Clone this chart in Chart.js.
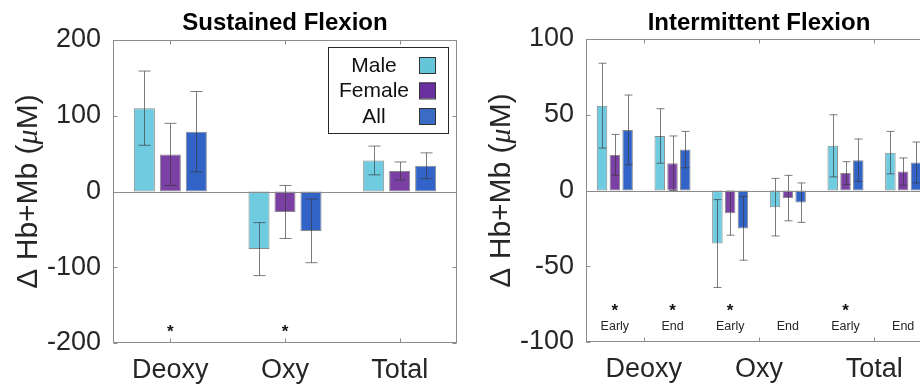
<!DOCTYPE html>
<html>
<head>
<meta charset="utf-8">
<script src="https://cdn.jsdelivr.net/npm/chart.js@4.4.1/dist/chart.umd.min.js"></script>
<style>
  html, body { margin: 0; padding: 0; background: #fff; overflow: hidden; width: 920px; height: 385px; }
  #sustained { position: absolute; left: 0; top: 0; }
  #intermittent { position: absolute; left: 460px; top: 0; }
</style>
</head>
<body>
<canvas id="sustained" width="460" height="385"></canvas>
<canvas id="intermittent" width="475" height="385"></canvas>
<script>
// Sustained flexion (left panel)
const groupsL = ["Deoxy", "Oxy", "Total"];
const maleL = [110, -76, 41];
const maleErrL = [49, 35, 19];
const femaleL = [49, -27, 27];
const femaleErrL = [41, 35, 12];
const allL = [79, -52, 34];
const allErrL = [53, 42, 17];
const starsL = [true, true, false];
const ticksL = [-200, -100, 0, 100, 200];

// Intermittent flexion (right panel)
const groupsR = ["Deoxy", "Oxy", "Total"];
const phasesR = ["Early", "End", "Early", "End", "Early", "End"];
const maleR = [56, 36, -35, -11, 29.5, 25];
const maleErrR = [28, 18, 29, 19, 20.5, 14];
const femaleR = [23.5, 18, -15, -5, 11.5, 12.5];
const femaleErrR = [13.5, 18, 14.5, 15, 7.5, 9];
const allR = [40, 27, -25, -8, 20, 18.5];
const allErrR = [23, 12, 21, 13, 14, 13.5];
const starsR = [true, true, true, false, true, false];
const ticksR = [-100, -50, 0, 50, 100];

const seriesNames = ["Male", "Female", "All"];
const FONT = "'Liberation Sans', Arial, Helvetica, sans-serif";
const TEXT = "#262626";
const barColors = ["#6ECBE0", "#7B40A3", "#3264C8"];
const legendColors = ["#66C6D9", "#6A30A0", "#3A6CC4"];

// draws error bars, box, inward ticks, stars, titles, legend (MATLAB look)
const matlabAxes = {
  id: "matlabAxes",
  afterDatasetsDraw(chart, args, opts) {
    const ctx = chart.ctx;
    const area = chart.chartArea;
    const y = chart.scales.y;
    const xBars = chart.scales.x;
    const xTicks = chart.scales[opts.tickAxis];
    ctx.save();

    // error bars
    chart.data.datasets.forEach((ds, di) => {
      const meta = chart.getDatasetMeta(di);
      meta.data.forEach((bar, i) => {
        const v = ds.data[i];
        const e = ds.errors[i];
        const yTop = y.getPixelForValue(v + e);
        const yBot = y.getPixelForValue(v - e);
        const bx = Math.round(bar.x) + 0.5;
        ctx.strokeStyle = "rgba(55,55,55,0.65)";
        ctx.lineWidth = 1;
        ctx.beginPath();
        ctx.moveTo(bx, yTop);
        ctx.lineTo(bx, yBot);
        ctx.moveTo(bx - opts.cap, yTop);
        ctx.lineTo(bx + opts.cap, yTop);
        ctx.moveTo(bx - opts.cap, yBot);
        ctx.lineTo(bx + opts.cap, yBot);
        ctx.stroke();
      });
    });

    // zero line + box
    ctx.strokeStyle = "#8c8c8c";
    ctx.lineWidth = 1;
    const y0 = Math.round(y.getPixelForValue(0)) + 0.5;
    ctx.beginPath();
    ctx.moveTo(area.left, y0);
    ctx.lineTo(area.right, y0);
    ctx.stroke();
    const L = Math.round(area.left) + 0.5, T = Math.round(area.top) + 0.5;
    const R = Math.round(area.right) - 0.5, B = Math.round(area.bottom) - 0.5;
    ctx.strokeRect(L, T, R - L, B - T);

    // inward ticks
    ctx.beginPath();
    xTicks.ticks.forEach((t, i) => {
      const px = Math.round(xTicks.getPixelForTick(i)) + 0.5;
      ctx.moveTo(px, T); ctx.lineTo(px, T + 4);
      ctx.moveTo(px, B); ctx.lineTo(px, B - 4);
    });
    y.ticks.forEach((t, i) => {
      const py = Math.round(y.getPixelForTick(i)) + 0.5;
      ctx.moveTo(L, py); ctx.lineTo(L + 4, py);
      ctx.moveTo(R, py); ctx.lineTo(R - 4, py);
    });
    ctx.stroke();

    // significance stars
    ctx.fillStyle = "#111";
    ctx.textAlign = "center";
    ctx.textBaseline = "middle";
    ctx.font = "bold 17px " + FONT;
    opts.stars.forEach((s, i) => {
      if (s) ctx.fillText("*", xBars.getPixelForValue(i), y.getPixelForValue(opts.starY) + 4);
    });

    // phase labels
    if (opts.phases) {
      ctx.font = "12.5px " + FONT;
      ctx.fillStyle = TEXT;
      opts.phases.forEach((p, i) => {
        ctx.fillText(p, xBars.getPixelForValue(i), y.getPixelForValue(opts.phaseY));
      });
    }

    // title
    ctx.fillStyle = "#000";
    ctx.font = "bold 24px " + FONT;
    ctx.fillText(opts.title, (area.left + area.right) / 2, 23);

    // y axis title with italic mu
    const parts = [
      ["\u0394 Hb+Mb (", "30px " + FONT],
      ["\u03bc", "italic 30px 'Liberation Serif', serif"],
      ["M)", "30px " + FONT],
    ];
    let total = 0;
    parts.forEach((p) => { ctx.font = p[1]; total += ctx.measureText(p[0]).width; });
    ctx.translate(area.left - 84, (area.top + area.bottom) / 2);
    ctx.rotate(-Math.PI / 2);
    ctx.textAlign = "left";
    ctx.fillStyle = TEXT;
    let cx = -total / 2;
    parts.forEach((p) => {
      ctx.font = p[1];
      ctx.fillText(p[0], cx, 0);
      cx += ctx.measureText(p[0]).width;
    });
    ctx.setTransform(1, 0, 0, 1, 0, 0);

    // legend box
    if (opts.legend) {
      ctx.fillStyle = "#fff";
      ctx.fillRect(328, 47, 120, 86);
      ctx.strokeStyle = "#262626";
      ctx.strokeRect(328.5, 47.5, 120, 86);
      ctx.textAlign = "center";
      ctx.font = "21px " + FONT;
      seriesNames.forEach((name, i) => {
        const cy = 65 + i * 25.5;
        ctx.fillStyle = "#111";
        ctx.fillText(name, 374, cy + 1);
        ctx.fillStyle = legendColors[i];
        ctx.fillRect(419, cy - 8, 17, 16);
        ctx.strokeStyle = "#333";
        ctx.strokeRect(419.5, cy - 7.5, 16, 16);
      });
    }
    ctx.restore();
  },
};

function barSet(values, errors, i) {
  return {
    label: seriesNames[i],
    data: values,
    errors: errors,
    backgroundColor: barColors[i],
    borderColor: "rgba(40,40,40,0.55)",
    borderWidth: 1,
    borderSkipped: false,
  };
}

const yTicks = (list) => ({
  font: { family: FONT, size: 27 },
  color: TEXT,
  padding: 4,
  stepSize: list[1] - list[0],
});

// left chart
new Chart(document.getElementById("sustained").getContext("2d"), {
  type: "bar",
  data: {
    labels: groupsL,
    datasets: [
      barSet(maleL, maleErrL, 0),
      barSet(femaleL, femaleErrL, 1),
      barSet(allL, allErrL, 2),
    ],
  },
  options: {
    responsive: false,
    animation: false,
    categoryPercentage: 0.68,
    barPercentage: 0.81,
    layout: { padding: { top: 40, right: 3, left: 0, bottom: 0 } },
    scales: {
      x: {
        grid: { display: false },
        border: { display: false },
        ticks: { font: { family: FONT, size: 27 }, color: TEXT, padding: 3 },
        afterFit(scale) { scale.height = 42; },
      },
      y: {
        min: ticksL[0],
        max: ticksL[ticksL.length - 1],
        grid: { display: false },
        border: { display: false },
        ticks: yTicks(ticksL),
        afterFit(scale) { scale.width = 113; },
      },
    },
    plugins: {
      legend: { display: false },
      tooltip: { enabled: false },
      matlabAxes: {
        title: "Sustained Flexion",
        tickAxis: "x",
        cap: 6,
        stars: starsL,
        starY: -180,
        legend: true,
      },
    },
  },
  plugins: [matlabAxes],
});

// right chart
new Chart(document.getElementById("intermittent").getContext("2d"), {
  type: "bar",
  data: {
    labels: phasesR,
    datasets: [
      barSet(maleR, maleErrR, 0),
      barSet(femaleR, femaleErrR, 1),
      barSet(allR, allErrR, 2),
    ],
  },
  options: {
    responsive: false,
    animation: false,
    categoryPercentage: 0.665,
    barPercentage: 0.82,
    layout: { padding: { top: 39, right: 3, left: 0, bottom: 0 } },
    scales: {
      x: { display: false, offset: true },
      x2: {
        type: "category",
        labels: groupsR,
        position: "bottom",
        offset: true,
        grid: { display: false },
        border: { display: false },
        ticks: { font: { family: FONT, size: 27 }, color: TEXT, padding: 3 },
        afterFit(scale) { scale.height = 43; },
      },
      y: {
        min: ticksR[0],
        max: ticksR[ticksR.length - 1],
        grid: { display: false },
        border: { display: false },
        ticks: yTicks(ticksR),
        afterFit(scale) { scale.width = 126; },
      },
    },
    plugins: {
      legend: { display: false },
      tooltip: { enabled: false },
      matlabAxes: {
        title: "Intermittent Flexion",
        tickAxis: "x2",
        cap: 4,
        stars: starsR,
        starY: -77,
        phases: phasesR,
        phaseY: -90,
        legend: false,
      },
    },
  },
  plugins: [matlabAxes],
});
</script>
</body>
</html>
